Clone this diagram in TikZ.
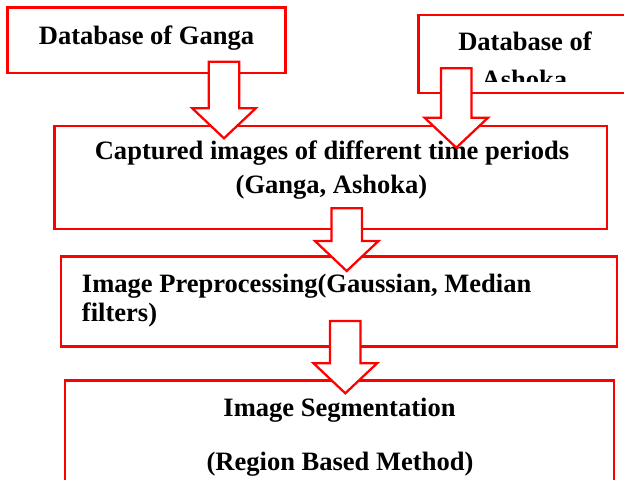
\documentclass[tikz,border=0pt]{standalone}
\usepackage{fontspec}
\setmainfont{Liberation Serif}
\usetikzlibrary{calc,fit}
\tikzset{
  box/.style={draw=red,line width=1.7pt,inner sep=0pt},
  lbl/.style={font=\fontsize{19.9}{24}\selectfont\bfseries,inner sep=0pt,anchor=base},
  blockarr/.style={draw=red,fill=white,line width=1.7pt,line join=miter},
}
% hollow block arrow from top point #1 down to tip #2
\newcommand{\blockarrow}[2]{%
  \draw[blockarr] let \p1=(#1), \p2=(#2) in
    (\x1-11.4pt,\y1) -- (\x1+11.4pt,\y1) -- (\x1+11.4pt,\y2+22.5pt)
    -- (\x1+23.8pt,\y2+22.5pt) -- (\x2,\y2) -- (\x1-23.8pt,\y2+22.5pt)
    -- (\x1-11.4pt,\y2+22.5pt) -- cycle;}
\begin{document}
\begin{tikzpicture}[x=0.75pt,y=-0.75pt]
    \useasboundingbox (0,0) rectangle (624,479);
    \clip (0,0) rectangle (624,479);
    % boxes
    \node[box,fit={(7.5,7.5) (285.5,73.3)}] (gan) {};
    \node[box,fit={(418.5,15) (640,93.3)}] (ash) {};
    \node[box,fit={(54.5,126) (606.7,229.3)}] (cap) {};
    \node[box,fit={(61,256.5) (617,346.5)}] (pre) {};
    \node[box,fit={(65,380.5) (614,520)}] (seg) {};
    % texts
    \node[lbl] (ganA) at (146.5,44.3) {Database of Ganga};
    \node[lbl] (ashA) at (525,50.7) {Database of};
    \begin{scope}
        \clip (418.5,15) rectangle (640,81.7);
        \node[lbl] (ashB) at (524.5,88) {Ashoka};
    \end{scope}
    \node[lbl] (capA) at (332,159) {Captured images of different time periods};
    \node[lbl] (capB) at (331.5,193) {(Ganga, Ashoka)};
    \node[lbl,anchor=base west] (preA) at (81.7,292.7) {Image Preprocessing(Gaussian, Median};
    \node[lbl,anchor=base west] (preB) at (81.7,321.7) {filters)};
    \node[lbl] (segA) at (339.5,416) {Image Segmentation};
    \node[lbl] (segB) at (340,470) {(Region Based Method)};
    % arrows
    \coordinate (a1) at (224,61.7);   \coordinate (b1) at (224,138.3);
    \coordinate (a2) at (456.3,68.3); \coordinate (b2) at (456.3,147.7);
    \coordinate (a3) at (346.7,208.3); \coordinate (b3) at (346.7,271);
    \coordinate (a4) at (345.3,321);  \coordinate (b4) at (345.3,393.3);
    \blockarrow{a1}{b1}
    \blockarrow{a2}{b2}
    \blockarrow{a3}{b3}
    \blockarrow{a4}{b4}
\end{tikzpicture}
\end{document}
